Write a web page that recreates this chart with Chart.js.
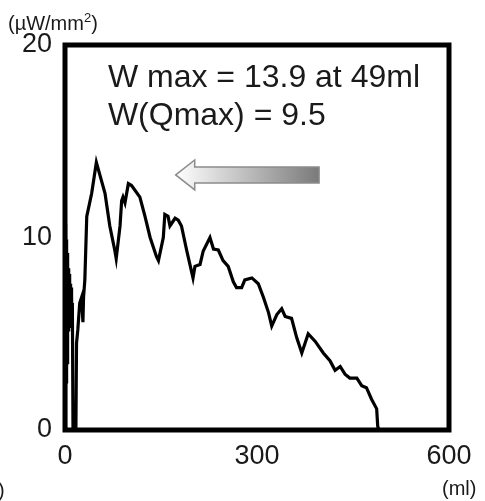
<!DOCTYPE html>
<html>
<head>
<meta charset="utf-8">
<script src="https://cdn.jsdelivr.net/npm/chart.js@4.4.1/dist/chart.umd.min.js"></script>
<style>
  html, body { margin: 0; padding: 0; background: #fff; }
  #wrap { width: 485px; height: 501px; }
</style>
</head>
<body>
<div id="wrap"><canvas id="chart" width="485" height="501"></canvas></div>
<script>
// voided volume (ml) and flow power W (uW/mm2)
const volume = [
  0, 0.3, 0.6, 0.9, 1.2, 1.5, 1.8, 2.1, 2.5, 2.9, 3.3, 3.7, 4.1, 4.5,
  5, 5.5, 6, 6.5, 7, 7.5, 8, 8.5, 9, 9.5, 10, 10.5, 11, 11.5, 12.5, 17,
  18, 20, 23, 26, 28, 29, 31, 34, 41.7, 49, 62.5, 70, 78, 80,
  86, 88.5, 90.6, 93.7, 99, 104, 117, 125, 133, 143, 146,
  153.6, 156, 161, 164, 172, 177, 182, 190, 200, 203, 211, 216,
  226.5, 232, 239.5, 247, 255, 263, 268, 276, 281, 292, 302,
  310, 318, 323, 331, 338.6, 344, 354, 362, 370, 380, 391,
  403.6, 414, 422, 430, 437.5, 445, 456, 463.6, 471, 479,
  487, 488.6, 490.6
];
const flowPower = [
  0, 10.7, 1.5, 10.4, 3, 10.2, 2.5, 9.9, 4, 9.6, 3.5, 9.2, 5, 8.8,
  5.2, 8.4, 5.5, 8.1, 5.3, 7.8, 6, 7.6, 5.4, 7.4, 5.8, 7.0, 5.5, 6.6, 0, 0,
  4.5, 5.2, 6.6, 6.9, 5.6, 6.9, 7.8, 11.1, 12.3, 13.9, 12.3, 10.6, 9.3, 8.9,
  10.6, 11.9, 12.1, 11.8, 12.8, 12.7, 12.1, 11.1, 10.0, 9.0, 8.8,
  10.0, 11.2, 11.1, 10.6, 11.0, 10.9, 10.6, 9.35, 7.9, 8.5, 8.6, 9.3,
  10.0, 9.4, 9.35, 8.8, 8.5, 7.7, 7.4, 7.4, 7.8, 7.9, 7.6,
  6.9, 6.1, 5.4, 6.0, 6.3, 5.9, 5.8, 4.8, 4.0, 5.0, 4.6,
  4.0, 3.6, 3.1, 3.3, 2.9, 2.7, 2.7, 2.3, 2.2, 1.6,
  1.1, 0.2, 0
];
const xTicks = [0, 300, 600];
const yTicks = [0, 10, 20];
const notes = ['W max = 13.9 at 49ml', 'W(Qmax) = 9.5'];

const FONT = '"Liberation Sans", Arial, sans-serif';
const INK = '#1a1a1a';

// frame, annotations, arrow and unit labels
const extras = {
  id: 'extras',
  afterDatasetsDraw(chart) {
    const { ctx, chartArea: a, scales: { x, y } } = chart;
    ctx.save();

    // heavy box round the plot
    ctx.strokeStyle = '#000';
    ctx.lineWidth = 5;
    ctx.strokeRect(a.left, a.top, a.right - a.left, a.bottom - a.top);

    // text in the box
    ctx.fillStyle = INK;
    ctx.font = '32px ' + FONT;
    ctx.textBaseline = 'alphabetic';
    ctx.fillText(notes[0], x.getPixelForValue(67), y.getPixelForValue(17.8));
    ctx.fillText(notes[1], x.getPixelForValue(67), y.getPixelForValue(15.85));

    // gradient arrow pointing left
    const tip = x.getPixelForValue(173);
    const tail = x.getPixelForValue(397);
    const mid = y.getPixelForValue(13.25);
    const neck = tip + 19;
    const g = ctx.createLinearGradient(tip, 0, tail, 0);
    g.addColorStop(0, '#ffffff');
    g.addColorStop(1, '#7a7a7a');
    ctx.beginPath();
    ctx.moveTo(tip, mid);
    ctx.lineTo(neck, mid - 15);
    ctx.lineTo(neck, mid - 8);
    ctx.lineTo(tail, mid - 8);
    ctx.lineTo(tail, mid + 8);
    ctx.lineTo(neck, mid + 8);
    ctx.lineTo(neck, mid + 15);
    ctx.closePath();
    ctx.fillStyle = g;
    ctx.fill();
    ctx.strokeStyle = '#8c8c8c';
    ctx.lineWidth = 1.5;
    ctx.stroke();

    // unit labels
    ctx.fillStyle = INK;
    ctx.font = '20px ' + FONT;
    let ux = 8;
    ctx.fillText('(\u00b5W/mm', ux, 30);
    ux += ctx.measureText('(\u00b5W/mm').width;
    ctx.font = '13px ' + FONT;
    ctx.fillText('2', ux, 22);
    ux += ctx.measureText('2').width;
    ctx.font = '20px ' + FONT;
    ctx.fillText(')', ux, 30);

    ctx.fillText('(ml)', 442, 495);
    ctx.fillText(')', -2, 497);
    ctx.restore();
  }
};

new Chart(document.getElementById('chart').getContext('2d'), {
  type: 'line',
  data: {
    datasets: [{
      data: volume.map((v, i) => ({ x: v, y: flowPower[i] })),
      borderColor: '#000',
      borderWidth: 3.2,
      pointRadius: 0,
      tension: 0,
      fill: false
    }]
  },
  options: {
    responsive: false,
    animation: false,
    layout: { padding: { top: 45, right: 36, left: 0, bottom: 0 } },
    plugins: {
      legend: { display: false },
      tooltip: { enabled: false }
    },
    scales: {
      x: {
        type: 'linear',
        min: 0,
        max: 600,
        afterBuildTicks: (s) => { s.ticks = xTicks.map(v => ({ value: v })); },
        afterFit: (s) => { s.height = 71; },
        grid: { display: false, drawTicks: false },
        border: { display: false },
        ticks: { color: INK, font: { family: FONT, size: 27 }, padding: 10, maxRotation: 0 }
      },
      y: {
        min: 0,
        max: 20,
        afterBuildTicks: (s) => { s.ticks = yTicks.map(v => ({ value: v })); },
        afterFit: (s) => { s.width = 65; },
        grid: { display: false, drawTicks: false },
        border: { display: false },
        ticks: { color: INK, font: { family: FONT, size: 27 }, padding: 13 }
      }
    }
  },
  plugins: [extras]
});
</script>
</body>
</html>
